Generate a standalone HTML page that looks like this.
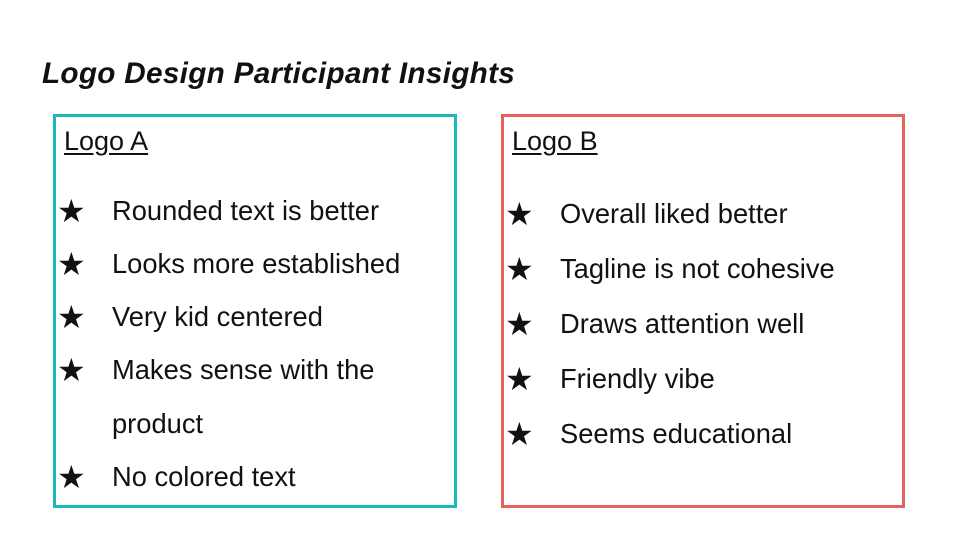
<!DOCTYPE html>
<html>
<head>
<meta charset="utf-8">
<style>
  html,body{margin:0;padding:0;background:#fff;}
  #slide{position:relative;width:960px;height:540px;overflow:hidden;background:#fff;
    font-family:"Liberation Sans Narrow","Liberation Sans",sans-serif;color:#111;}
  .title{position:absolute;left:42px;top:57px;font-size:29.7px;font-weight:bold;font-style:italic;
    font-family:"Liberation Sans","DejaVu Sans",sans-serif;letter-spacing:0.3px;}
  .box{position:absolute;top:114px;height:394px;box-sizing:border-box;}
  #box-a{left:53px;width:404px;border:3px solid #19B9BE;}
  #box-b{left:501px;width:404px;border:3px solid #E9605A;}
  .head{position:absolute;font-size:27px;text-decoration:underline;text-underline-offset:3px;}
  .item{position:absolute;font-size:27.3px;white-space:nowrap;}
  .star{position:absolute;font-size:32px;font-family:"DejaVu Sans",sans-serif;}
</style>
</head>
<body>
<div id="slide">
  <div class="title">Logo Design Participant Insights</div>

  <div id="box-a" class="box"></div>
  <div class="head" style="left:64px;top:126px;">Logo A</div>
  <div class="star" style="left:57px;top:192px;">★</div>
  <div class="item" style="left:112px;top:195px;">Rounded text is better</div>
  <div class="star" style="left:57px;top:245px;">★</div>
  <div class="item" style="left:112px;top:248px;">Looks more established</div>
  <div class="star" style="left:57px;top:298px;">★</div>
  <div class="item" style="left:112px;top:301px;">Very kid centered</div>
  <div class="star" style="left:57px;top:351px;">★</div>
  <div class="item" style="left:112px;top:354px;">Makes sense with the</div>
  <div class="item" style="left:112px;top:408px;">product</div>
  <div class="star" style="left:57px;top:458px;">★</div>
  <div class="item" style="left:112px;top:461px;">No colored text</div>

  <div id="box-b" class="box"></div>
  <div class="head" style="left:512px;top:126px;">Logo B</div>
  <div class="star" style="left:505px;top:195px;">★</div>
  <div class="item" style="left:560px;top:198px;">Overall liked better</div>
  <div class="star" style="left:505px;top:250px;">★</div>
  <div class="item" style="left:560px;top:253px;">Tagline is not cohesive</div>
  <div class="star" style="left:505px;top:305px;">★</div>
  <div class="item" style="left:560px;top:308px;">Draws attention well</div>
  <div class="star" style="left:505px;top:360px;">★</div>
  <div class="item" style="left:560px;top:363px;">Friendly vibe</div>
  <div class="star" style="left:505px;top:415px;">★</div>
  <div class="item" style="left:560px;top:418px;">Seems educational</div>
</div>
</body>
</html>
